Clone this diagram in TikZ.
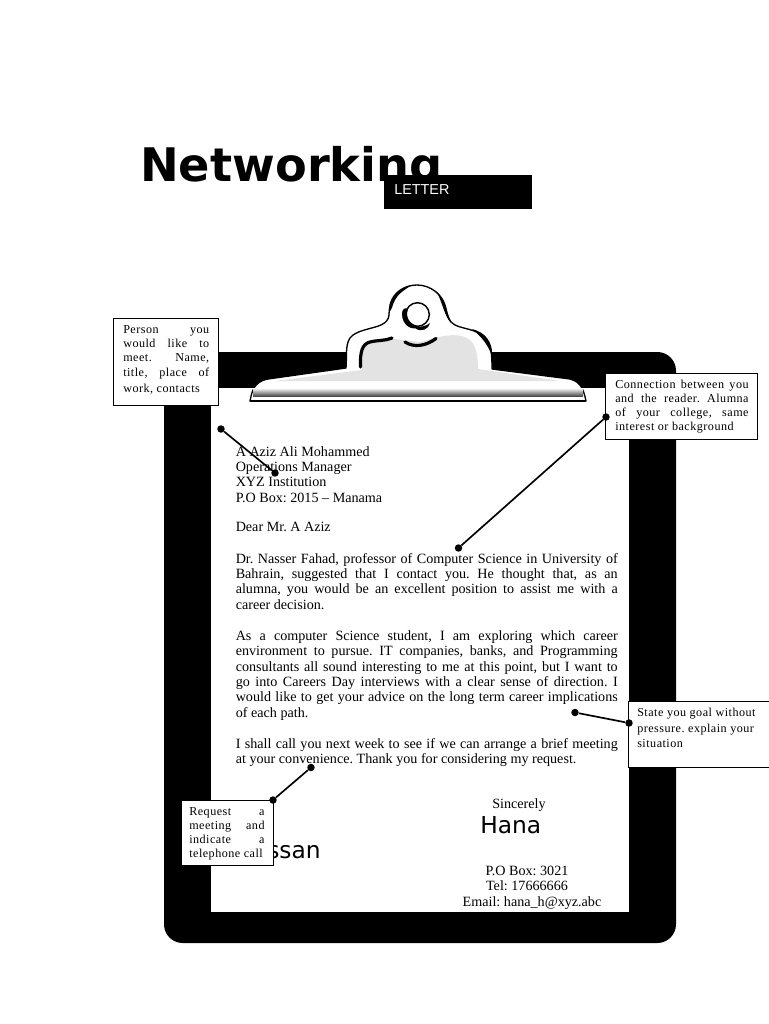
\documentclass[tikz,border=0pt]{standalone}
\usepackage{fontspec}
\setmainfont{Liberation Serif}
\newfontfamily\dvs{DejaVu Sans}
\newfontfamily\lsans{Liberation Sans}
\newfontfamily\notefont[LetterSpace=4]{Liberation Serif}
\newcommand{\jl}[1]{\makebox[\hsize][s]{#1}\\}
\frenchspacing
\definecolor{clipgrey}{gray}{0.89}
\tikzset{
  body/.style={anchor=north west,inner sep=0pt,text width=286.5pt,align=flush left,font=\fontsize{10.6}{11.5}\selectfont},
  single/.style={anchor=base,inner sep=0pt,font=\fontsize{10.6}{11.5}\selectfont},
  note/.style={draw=black,line width=0.75pt,fill=white,anchor=north west,inner sep=0pt,align=left},
  notetext/.style={anchor=north west,inner sep=0pt,align=flush left,font=\notefont\fontsize{9.1}{10.6}\selectfont},
  dot/.style={circle,fill=black,inner sep=0pt,minimum size=5.6pt},
  link/.style={line width=1.25pt,black},
  ink/.style={line width=1pt,black,line cap=round,line join=round},
  thick ink/.style={line width=2.4pt,black,line cap=round}
}
\begin{document}
\begin{tikzpicture}[x=0.75pt,y=-0.75pt]
\useasboundingbox (0,0) rectangle (768,1024);
\fill[white] (0,0) rectangle (768,1024);
% board
\fill[black,rounded corners=14pt] (164,352) rectangle (676,943);
\fill[white] (211,388) rectangle (629,912);
% title
\node[anchor=base west,inner sep=0pt,font=\dvs\bfseries\fontsize{34.7}{40}\selectfont] (title) at (140,181) {Networking};
\fill[black] (384,175) rectangle (532,209);
\node[anchor=west,inner sep=0pt,text=white,font=\lsans\fontsize{10.8}{12}\selectfont] (letter) at (394,190) {LETTER};
% clip
\draw[ink,fill=white] (250,401) .. controls (252,392) and (253,382) .. (268,379) -- (346,368)
  .. controls (347,358) and (345,345) .. (350,338)
  .. controls (356,330) and (372,329) .. (381,325)
  .. controls (392,320) and (388,312) .. (390,305)
  .. controls (393,292) and (405,285) .. (417,285)
  .. controls (431,285) and (442,295) .. (445,305)
  .. controls (448,315) and (447,320) .. (455,325)
  .. controls (463,329) and (476,329) .. (484,337)
  .. controls (491,344) and (492,352) .. (492,369)
  -- (570,379) .. controls (582,382) and (584,392) .. (586,401) -- cycle;
\fill[clipgrey] (362,370) .. controls (362,355) and (362,345) .. (372,341) -- (395,339) -- (420,342)
  .. controls (440,336) and (455,333) .. (465,337)
  .. controls (476,341) and (478,355) .. (478,369)
  -- (560,381) -- (275,381) -- cycle;
\shade[top color=white,bottom color=black!75] (253,388) rectangle (583,396.5);
\draw[black,line width=1.5pt] (250,401) -- (586,401);
% ink accents
\draw[thick ink] (360.5,367) .. controls (360,352) and (362,344) .. (370,342) .. controls (378,340) and (385,341) .. (392,338);
\draw[thick ink] (405,342) .. controls (414,348) and (426,346) .. (436,338.5);
\fill[black] (389,312) .. controls (390,300) and (397,288) .. (412,285) .. controls (404,290) and (398,294) .. (395,300) .. controls (392,306) and (392,310) .. (389,312) -- cycle;
\fill[black] (436,291) .. controls (444,298) and (447,312) .. (451,323) .. controls (444,316) and (442,300) .. (436,291) -- cycle;
\fill[black] (472,329) .. controls (485,332) and (493,342) .. (492,356) .. controls (488,345) and (482,337) .. (472,329) -- cycle;
\draw[black,fill=white,line width=1.1pt] (417.5,314.5) circle (11.8);
\fill[black] (402,314) .. controls (402,309) and (405,307) .. (408,309) .. controls (405,318) and (410,325) .. (420,326.5) .. controls (412,332) and (402,325) .. (402,314) -- cycle;
\fill[black] (415,328) .. controls (420,326) and (426,327) .. (430,323) .. controls (429,329) and (421,333) .. (415,328) -- cycle;
% letter
\node[body] (addr) at (235.5,446) {A Aziz Ali Mohammed\\Operations Manager\\XYZ Institution\\P.O Box: 2015 -- Manama};
\node[body] (dear) at (235.5,522) {Dear Mr. A Aziz};
\node[body] (p1) at (235.5,553) {\jl{Dr. Nasser Fahad, professor of Computer Science in University of}\jl{Bahrain, suggested that I contact you. He thought that, as an}\jl{alumna, you would be an excellent position to assist me with a}career decision.};
\node[body] (p2) at (235.5,630.5) {\jl{As a computer Science student, I am exploring which career}\jl{environment to pursue. IT companies, banks, and Programming}\jl{consultants all sound interesting to me at this point, but I want to}\jl{go into Careers Day interviews with a clear sense of direction. I}\jl{would like to get your advice on the long term career implications}of each path.};
\node[body] (p3) at (235.5,738) {\jl{I shall call you next week to see if we can arrange a brief meeting}at your convenience. Thank you for considering my request.};
\node[single] (since) at (519,808.5) {Sincerely};
\node[anchor=base west,inner sep=0pt,font=\dvs\fontsize{17.5}{20}\selectfont] (hana) at (480,833) {Hana};
\node[anchor=base west,inner sep=0pt,font=\dvs\fontsize{17.5}{20}\selectfont] (hassan) at (267,858) {ssan};
\node[single] (box) at (527,875.5) {P.O Box: 3021};
\node[single] (tel) at (527,890.5) {Tel: 17666666};
\node[single] (mail) at (532,906.5) {Email: hana\_h@xyz.abc};
% note boxes
\node[note,minimum width=78.75pt,minimum height=65.25pt] (n1) at (113,318) {};
\node[notetext,text width=64.5pt] (n1t) at (123,325.5) {\jl{Person\hfill you}\jl{would like to}\jl{meet. \hfill Name,}\makebox[\hsize][s]{title, place of}\\[1.5pt]work, contacts};
\node[note,minimum width=114pt,minimum height=49.5pt] (n2) at (605,373) {};
\node[notetext,text width=100pt] (n2t) at (615,379.5) {\jl{Connection between you}\jl{and the reader. Alumna}\jl{of your college, same}interest or background};
\node[note,minimum width=108pt,minimum height=49.5pt] (n3) at (628,701) {};
\node[notetext,text width=95pt] (n3t) at (637,708) {State you goal without\\[1pt]pressure. explain your\\[1pt]situation};
\node[note,minimum width=69pt,minimum height=48.75pt] (n4) at (180.5,799.5) {};
\node[notetext,text width=56.5pt] (n4t) at (189,807) {\jl{Request\hfill a}\jl{meeting\hfill and}\jl{indicate\hfill a}telephone call};
% connectors
\node[dot] (a1) at (221,429) {};
\node[dot] (a2) at (275,473) {};
\node[dot] (b1) at (606,417) {};
\node[dot] (b2) at (458.5,548) {};
\node[dot] (c1) at (575,712.5) {};
\node[dot] (c2) at (629,723) {};
\node[dot] (d1) at (311,767.5) {};
\node[dot] (d2) at (273,800) {};
\draw[link] (a1) -- (a2);
\draw[link] (b1) -- (b2);
\draw[link] (c1) -- (c2);
\draw[link] (d1) -- (d2);
\end{tikzpicture}
\end{document}
